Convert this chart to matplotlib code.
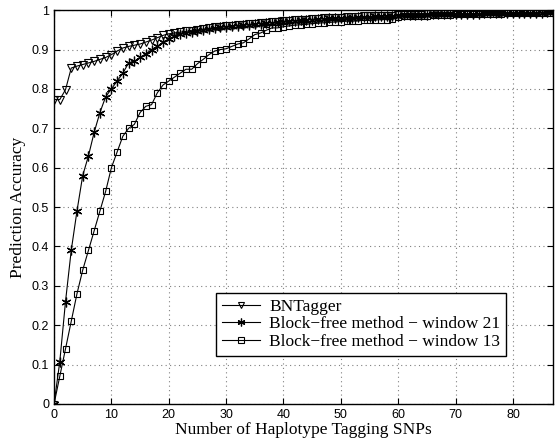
import matplotlib
matplotlib.use('Agg')
import matplotlib.pyplot as plt
import numpy as np

# values, one per number of tagging SNPs (0..87)
bntagger = [0.773, 0.773, 0.798, 0.853, 0.858, 0.862, 0.866, 0.870, 0.875, 0.880,
            0.887, 0.896, 0.904, 0.908, 0.911, 0.914, 0.919, 0.924, 0.930, 0.936,
            0.940, 0.942, 0.944, 0.946, 0.948, 0.950, 0.952, 0.954, 0.956, 0.957,
            0.959, 0.960, 0.962, 0.963, 0.964, 0.966, 0.967, 0.968, 0.969, 0.970,
            0.972, 0.973, 0.974, 0.975, 0.976, 0.977, 0.978, 0.979, 0.980, 0.980,
            0.981, 0.982, 0.982, 0.983, 0.984, 0.984, 0.985, 0.985, 0.986, 0.986,
            0.987, 0.987, 0.988, 0.988, 0.988, 0.989, 0.989, 0.989, 0.990, 0.990,
            0.990, 0.991, 0.991, 0.991, 0.992, 0.992, 0.992, 0.993, 0.993, 0.993,
            0.993, 0.994, 0.994, 0.994, 0.994, 0.995, 0.995, 0.995]
window21 = [0.0, 0.107, 0.26, 0.39, 0.49, 0.58, 0.63, 0.69, 0.74, 0.78,
            0.80, 0.82, 0.84, 0.866, 0.87, 0.88, 0.889, 0.90, 0.908, 0.919,
            0.927, 0.934, 0.939, 0.942, 0.945, 0.948, 0.950, 0.952, 0.954, 0.956,
            0.958, 0.959, 0.961, 0.962, 0.963, 0.965, 0.966, 0.967, 0.968, 0.969,
            0.971, 0.972, 0.973, 0.974, 0.975, 0.976, 0.977, 0.978, 0.979, 0.979,
            0.980, 0.981, 0.981, 0.982, 0.983, 0.983, 0.984, 0.984, 0.985, 0.985,
            0.986, 0.987, 0.987, 0.988, 0.988, 0.988, 0.989, 0.989, 0.989, 0.990,
            0.990, 0.990, 0.991, 0.991, 0.991, 0.992, 0.992, 0.992, 0.993, 0.993,
            0.993, 0.993, 0.994, 0.994, 0.994, 0.994, 0.995, 0.995]
window13 = [0.0, 0.07, 0.14, 0.21, 0.28, 0.34, 0.39, 0.44, 0.49, 0.54,
            0.60, 0.64, 0.68, 0.70, 0.71, 0.74, 0.756, 0.76, 0.79, 0.81,
            0.82, 0.83, 0.84, 0.85, 0.85, 0.864, 0.875, 0.887, 0.896, 0.90,
            0.902, 0.908, 0.914, 0.917, 0.927, 0.938, 0.942, 0.949, 0.955, 0.955,
            0.958, 0.960, 0.962, 0.963, 0.964, 0.966, 0.967, 0.968, 0.969, 0.970,
            0.971, 0.972, 0.972, 0.973, 0.974, 0.974, 0.975, 0.976, 0.976, 0.977,
            0.983, 0.984, 0.985, 0.985, 0.986, 0.986, 0.987, 0.987, 0.988, 0.988,
            0.989, 0.989, 0.989, 0.990, 0.990, 0.990, 0.991, 0.991, 0.991, 0.992,
            0.992, 0.992, 0.993, 0.993, 0.993, 0.994, 0.994, 0.994]
labels = ['BNTagger', 'Block\u2212free method \u2212 window 21',
          'Block\u2212free method \u2212 window 13']

x = np.arange(len(bntagger))

fig = plt.figure(figsize=(5.57, 4.42), dpi=100)
ax = fig.add_axes([0.097, 0.086, 0.896, 0.891])

ax.plot(x, bntagger, 'k-', marker='v', mfc='none', ms=6, lw=0.8, mew=0.8)
ax.plot(x, window21, 'k-', marker=(6, 2, 0), ms=7, lw=0.8, mew=0.9)
ax.plot(x, window13, 'k-', marker='s', mfc='none', ms=5, lw=0.8, mew=0.8)

ax.set_xlim(0, 87)
ax.set_ylim(0, 1)
ax.set_xticks(np.arange(0, 81, 10))
ax.set_yticks(np.arange(0, 1.01, 0.1))
ax.set_yticklabels(['0', '0.1', '0.2', '0.3', '0.4', '0.5', '0.6', '0.7', '0.8', '0.9', '1'])
ax.tick_params(direction='in', top=True, right=True, length=4, labelsize=9)
for t in ax.get_xticklabels() + ax.get_yticklabels():
    t.set_family('Liberation Sans')
ax.grid(True, linestyle=(0, (1, 3)), color='gray', lw=0.8)
for s in ax.spines.values():
    s.set_linewidth(1.0)

ax.set_xlabel('Number of Haplotype Tagging SNPs', family='Liberation Serif', fontsize=12.5, labelpad=1)
ax.set_ylabel('Prediction Accuracy', family='Liberation Serif', fontsize=12.5, labelpad=4)

leg = ax.legend(labels, loc='lower right', bbox_to_anchor=(0.906, 0.122),
                borderaxespad=0,
                prop={'family': 'Liberation Serif', 'size': 12.5}, fancybox=False,
                edgecolor='black', framealpha=1, borderpad=0.35, labelspacing=0.08,
                handlelength=2.2, handletextpad=0.5, markerscale=0.8)
leg.get_frame().set_linewidth(1.0)

fig.savefig('out.png', dpi=100)
